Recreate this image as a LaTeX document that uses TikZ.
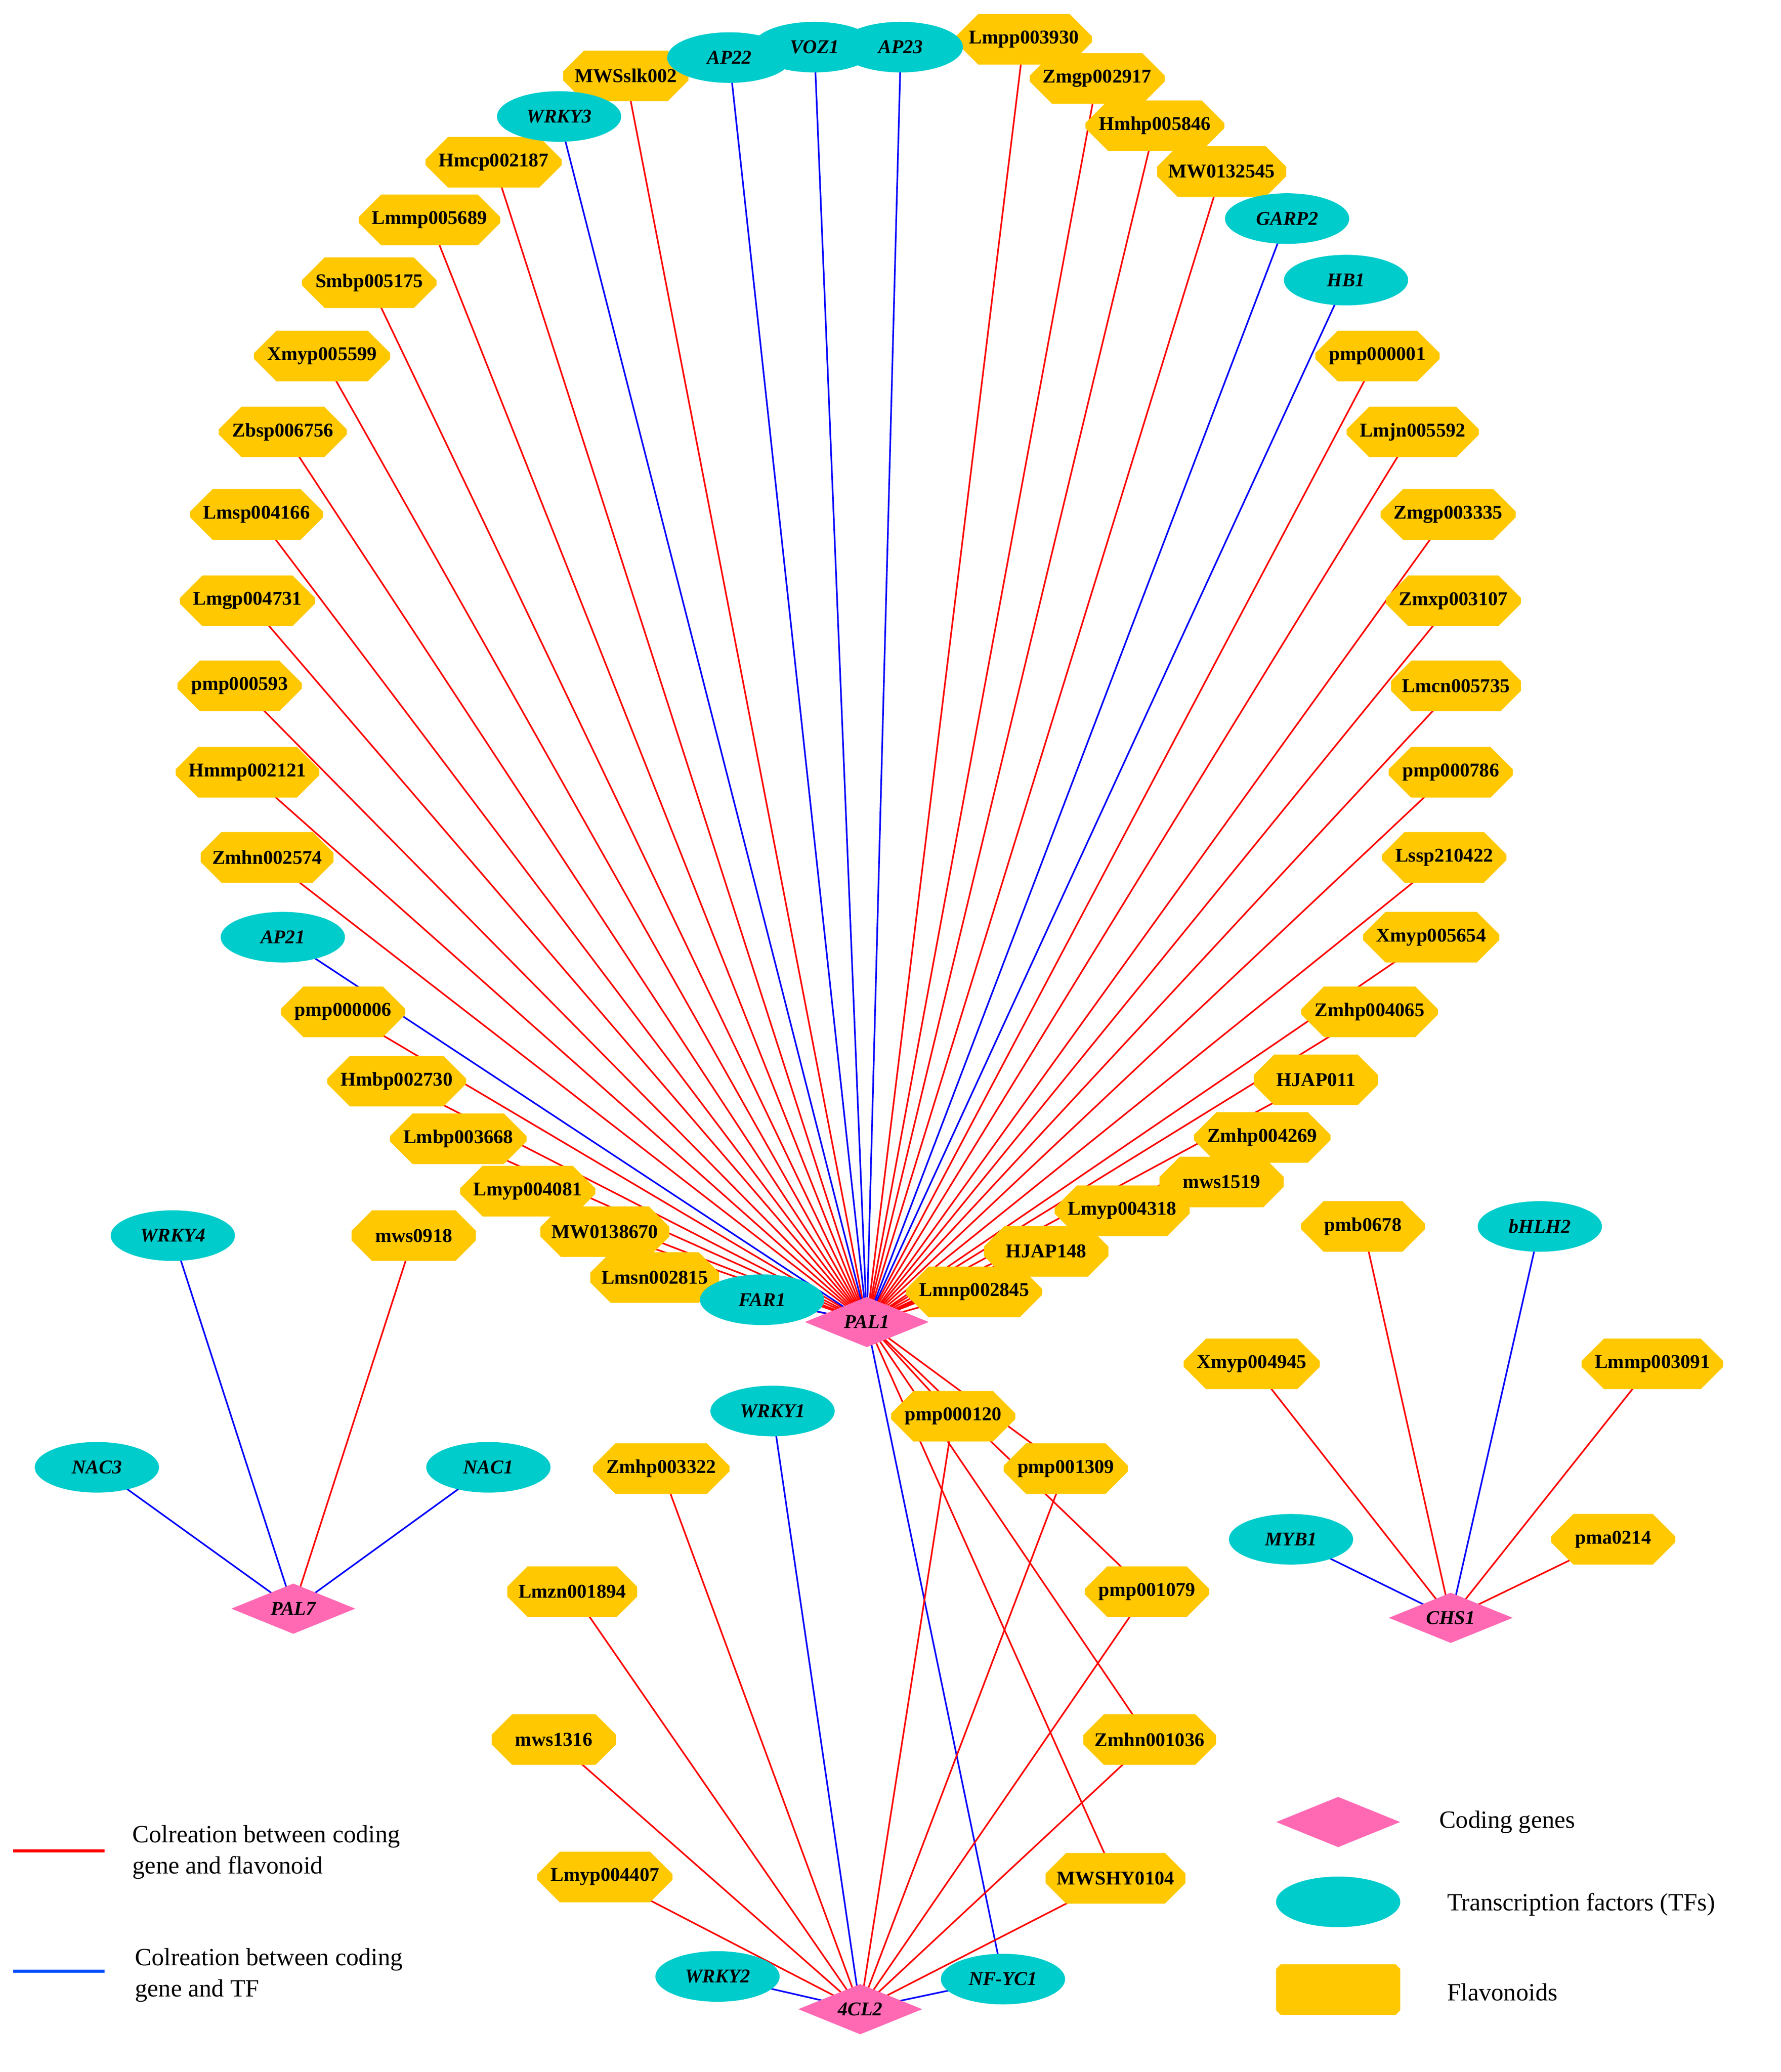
\documentclass[tikz,border=0pt]{standalone}
\usepackage{fontspec}
\setmainfont{Liberation Serif}
\usetikzlibrary{shapes.geometric,shapes.misc}
\pgfdeclarelayer{bg}\pgfsetlayers{bg,main}
\definecolor{oc}{RGB}{255,200,0}
\definecolor{el}{RGB}{0,204,204}
\definecolor{dm}{RGB}{255,105,180}
\tikzset{
 oct/.style={chamfered rectangle,chamfered rectangle sep=5pt,fill=oc,draw=none,minimum width=54pt,minimum height=22pt,inner sep=1pt,font=\fontsize{8.5}{10}\selectfont\bfseries},
 ell/.style={ellipse,fill=el,draw=none,minimum width=54pt,minimum height=22pt,inner sep=0pt,font=\fontsize{8.5}{10}\selectfont\bfseries\itshape},
 dia/.style={diamond,aspect=2.5,fill=dm,draw=none,minimum width=54pt,minimum height=22pt,inner sep=0pt,font=\fontsize{8.5}{10}\selectfont\bfseries\itshape},
 rl/.style={red,line width=0.7pt},
 bl/.style={blue,line width=0.7pt},
 leg/.style={anchor=west,align=left,font=\fontsize{10.8}{13.5}\selectfont}
}
\begin{document}
\begin{tikzpicture}[x=0.02cm,y=-0.02cm]
\useasboundingbox (0,0) rectangle (1360,1583);
% octagons
\foreach \n/\x/\y in {MWSslk002/478/58,Lmpp003930/782/30,Zmgp002917/838/60,Hmhp005846/882/96,MW0132545/933/131,pmp000001/1052/272,Lmjn005592/1079/330,Zmgp003335/1106/393,Zmxp003107/1110/459,Lmcn005735/1112/524,pmp000786/1108/590,Lssp210422/1103/655,Xmyp005654/1093/716,Zmhp004065/1046/773,HJAP011/1005/825,Zmhp004269/964/869,mws1519/933/903,Lmyp004318/857/925,HJAP148/799/956,Lmnp002845/744/987,Lmsn002815/500/976,MW0138670/462/941,Lmyp004081/403/910,Lmbp003668/350/870,Hmbp002730/303/826,pmp000006/262/773,Zmhn002574/204/655,Hmmp002121/189/590,pmp000593/183/524,Lmgp004731/189/459,Lmsp004166/196/393,Zbsp006756/216/330,Xmyp005599/246/272,Smbp005175/282/216,Lmmp005689/328/168,Hmcp002187/377/124,pmp000120/728/1082,pmp001309/814/1122,pmp001079/876/1216,Zmhn001036/878/1329,MWSHY0104/852/1435,Lmyp004407/462/1434,mws1316/423/1329,Lmzn001894/437/1216,Zmhp003322/505/1122,mws0918/316/944,pmb0678/1041/937,Xmyp004945/956/1042,Lmmp003091/1262/1042,pma0214/1232/1176}
  \node[oct] (\n) at (\x,\y) {\n};
% ellipses
\foreach \n/\x/\y in {AP22/557/44,VOZ1/622/36,AP23/688/36,GARP2/983/167,HB1/1028/214,FAR1/582/993,AP21/216/716,WRKY3/427/89,NF-YC1/766/1512,WRKY2/548/1510,WRKY1/590/1078,WRKY4/132/944,NAC3/74/1121,NAC1/373/1121,bHLH2/1176/937,MYB1/986/1176}
  \node[ell] (\n) at (\x,\y) {\n};
% diamonds
\foreach \n/\x/\y in {PAL1/662/1010,4CL2/657/1535,PAL7/224/1229,CHS1/1108/1236}
  \node[dia] (\n) at (\x,\y) {\n};
\begin{pgfonlayer}{bg}
\foreach \n in {MWSslk002,Lmpp003930,Zmgp002917,Hmhp005846,MW0132545,pmp000001,Lmjn005592,Zmgp003335,Zmxp003107,Lmcn005735,pmp000786,Lssp210422,Xmyp005654,Zmhp004065,HJAP011,Zmhp004269,mws1519,Lmyp004318,HJAP148,Lmnp002845,Lmsn002815,MW0138670,Lmyp004081,Lmbp003668,Hmbp002730,pmp000006,Zmhn002574,Hmmp002121,pmp000593,Lmgp004731,Lmsp004166,Zbsp006756,Xmyp005599,Smbp005175,Lmmp005689,Hmcp002187,pmp000120,pmp001309,pmp001079,Zmhn001036,MWSHY0104}
  \draw[rl] (PAL1.center) -- (\n.center);
\foreach \n in {AP22,VOZ1,AP23,GARP2,HB1,FAR1,AP21,WRKY3,NF-YC1}
  \draw[bl] (PAL1.center) -- (\n.center);
\foreach \n in {pmp000120,pmp001309,pmp001079,Zmhn001036,MWSHY0104,Lmyp004407,mws1316,Lmzn001894,Zmhp003322}
  \draw[rl] (4CL2.center) -- (\n.center);
\foreach \n in {WRKY2,NF-YC1,WRKY1}
  \draw[bl] (4CL2.center) -- (\n.center);
\draw[rl] (PAL7.center) -- (mws0918.center);
\foreach \n in {WRKY4,NAC3,NAC1} \draw[bl] (PAL7.center) -- (\n.center);
\foreach \n in {pmb0678,Xmyp004945,Lmmp003091,pma0214} \draw[rl] (CHS1.center) -- (\n.center);
\foreach \n in {bHLH2,MYB1} \draw[bl] (CHS1.center) -- (\n.center);
\end{pgfonlayer}
% legend
\coordinate (r1) at (10,1414); \coordinate (r2) at (80,1414);
\draw[red,line width=1.2pt] (r1) -- (r2);
\node[leg] (t1) at (95,1415) {Colreation between coding\\gene and flavonoid};
\coordinate (b1) at (10,1506); \coordinate (b2) at (80,1506);
\draw[blue!70!cyan,line width=1.2pt] (b1) -- (b2);
\node[leg] (t2) at (97,1509) {Colreation between coding\\gene and TF};
\node[dia] (lg1) at (1022,1392) {};
\node[leg] (lt1) at (1093,1392) {Coding genes};
\node[ell] (lg2) at (1022,1453) {};
\node[leg] (lt2) at (1099,1455) {Transcription factors (TFs)};
\node[oct] (lg3) at (1022,1520) {};
\node[leg] (lt3) at (1099,1522) {Flavonoids};
\end{tikzpicture}
\end{document}
